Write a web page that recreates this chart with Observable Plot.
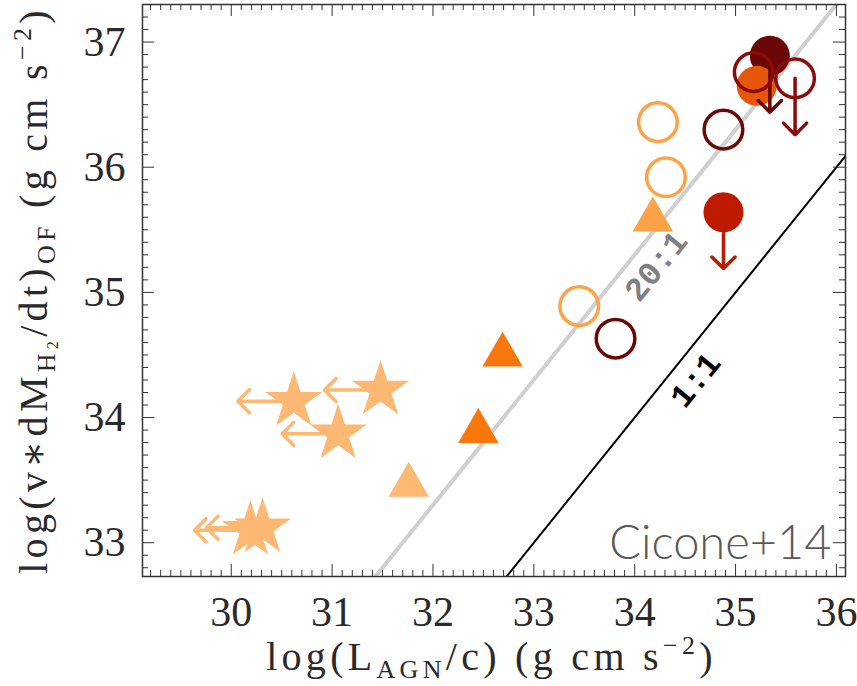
<!DOCTYPE html>
<html>
<head>
<meta charset="utf-8">
<script src="https://cdn.jsdelivr.net/npm/d3@7"></script>
<script src="https://cdn.jsdelivr.net/npm/@observablehq/plot@0.6"></script>
<style>
  html, body { margin: 0; padding: 0; background: #fff; }
  svg { display: block; }
</style>
</head>
<body>
<div id="chart"></div>
<script>
// Outflow momentum rate of the molecular gas versus AGN radiation momentum rate (log units)

// Stars: upper limits on L_AGN/c (arrows pointing left)
const starX = [30.62, 31.48, 31.06, 30.31, 30.19];
const starY = [34.13, 34.22, 33.87, 33.12, 33.10];
const starBin = [0, 0, 0, 0, 0];

// Filled triangles
const triX = [31.76, 32.45, 32.69, 34.18];
const triY = [33.46, 33.89, 34.50, 35.58];
const triBin = [0, 2, 2, 1];

// Open circles (the last one is an upper limit on the outflow rate)
const openX = [34.23, 34.31, 33.45, 33.81, 34.88, 35.18, 35.59];
const openY = [36.36, 35.92, 34.89, 34.63, 36.30, 36.76, 36.71];
const openBin = [1, 1, 1, 6, 6, 5, 5];
const openLimit = [false, false, false, false, false, false, true];

// Filled circles
const fillX = [34.88, 35.34, 35.21];
const fillY = [35.64, 36.89, 36.65];
const fillBin = [4, 6, 3];
const fillLimit = [true, true, false];

// Colour bins
const bins = [0, 1, 2, 3, 4, 5, 6];
const binColors = ["#fdb874", "#fda247", "#f8760c", "#e6560b", "#bd1a00", "#8c0a0a", "#6a0808"];

// Constant momentum-boost ratios and their labels
const ratioK = [20, 1];
const ratioLabel = ["20:1", "1:1"];
const ratioLabelX = [34.21, 34.60];
const ratioLabelY = [35.21, 34.30];

// Axes
const xDomain = [29.12, 36.09];
const yDomain = [32.73, 37.30];
const xTicks = d3.range(30, 37);
const yTicks = d3.range(33, 38);
const xMinor = d3.range(292, 361).map(d => d / 10).filter(d => !Number.isInteger(d));
const yMinor = d3.range(328, 373).map(d => d / 10).filter(d => !Number.isInteger(d));

const rows = (xs, ys, bs, lim) => xs.map((x, i) => ({x, y: ys[i], bin: bs[i], limit: lim ? lim[i] : false}));
const stars = rows(starX, starY, starBin);
const tris = rows(triX, triY, triBin);
const opens = rows(openX, openY, openBin, openLimit);
const fills = rows(fillX, fillY, fillBin, fillLimit);

const W = 857, H = 686;
const mL = 142, mR = 12, mT = 4, mB = 110;
const innerW = W - mL - mR, innerH = H - mT - mB;
const majorLen = 12, minorLen = 6;
const arrowDX = 0.555, arrowDY = 0.45;
const serif = "'Liberation Serif', 'DejaVu Serif', serif";
const tickColor = "#333";
const textColor = "#2a2a2a";

const ratioLine = k => [20, 40].map(x => ({x, y: x + Math.log10(k)}));

const xTickMarks = (vals, len) => [
  Plot.tickX(vals, {x: d => d, insetTop: innerH - len, stroke: tickColor, strokeWidth: 1}),
  Plot.tickX(vals, {x: d => d, insetBottom: innerH - len, stroke: tickColor, strokeWidth: 1})
];
const yTickMarks = (vals, len) => [
  Plot.tickY(vals, {y: d => d, insetRight: innerW - len, stroke: tickColor, strokeWidth: 1}),
  Plot.tickY(vals, {y: d => d, insetLeft: innerW - len, stroke: tickColor, strokeWidth: 1})
];

const chart = Plot.plot({
  width: W,
  height: H,
  marginLeft: mL,
  marginRight: mR,
  marginTop: mT,
  marginBottom: mB,
  style: {background: "#fff", color: textColor, fontFamily: serif},
  x: {domain: xDomain},
  y: {domain: yDomain},
  color: {type: "ordinal", domain: bins, range: binColors},
  marks: [
    // ratio lines
    Plot.line(ratioLine(ratioK[0]), {x: "x", y: "y", stroke: "#cfcfcf", strokeWidth: 4, clip: true}),
    Plot.line(ratioLine(ratioK[1]), {x: "x", y: "y", stroke: "#000", strokeWidth: 2, clip: true}),
    Plot.text([0], {x: () => ratioLabelX[0], y: () => ratioLabelY[0], text: () => ratioLabel[0], rotate: -51,
      fill: "#808080", fontSize: 33, fontWeight: "bold", fontFamily: "'Liberation Mono', monospace"}),
    Plot.text([1], {x: () => ratioLabelX[1], y: () => ratioLabelY[1], text: () => ratioLabel[1], rotate: -51,
      fill: "#000", fontSize: 33, fontWeight: "bold", fontFamily: "'Liberation Mono', monospace"}),

    // upper limits on L_AGN/c
    Plot.arrow(stars, {x1: "x", y1: "y", x2: d => d.x - arrowDX, y2: "y", stroke: "bin",
      strokeWidth: 3.5, headLength: 7, headAngle: 90}),
    Plot.dot(stars, {x: "x", y: "y", symbol: "star", r: 18, fill: "bin"}),

    Plot.dot(tris, {x: "x", y: "y", symbol: "triangle", r: 15, fill: "bin"}),

    Plot.dot(fills, {x: "x", y: "y", r: 20, fill: "bin"}),
    Plot.arrow(fills.filter(d => d.limit), {x1: "x", y1: "y", x2: "x", y2: d => d.y - arrowDY, stroke: "bin",
      strokeWidth: 3.5, headLength: 7, headAngle: 90}),

    Plot.dot(opens, {x: "x", y: "y", r: 19.3, fill: "none", stroke: "bin", strokeWidth: 3.5}),
    Plot.arrow(opens.filter(d => d.limit), {x1: "x", y1: "y", x2: "x", y2: d => d.y - arrowDY, stroke: "bin",
      strokeWidth: 3.5, headLength: 7, headAngle: 90}),

    // tick marks on all four sides, pointing inward
    ...xTickMarks(xTicks, majorLen),
    ...xTickMarks(xMinor, minorLen),
    ...yTickMarks(yTicks, majorLen),
    ...yTickMarks(yMinor, minorLen),

    Plot.axisX(xTicks, {anchor: "bottom", tickSize: 0, tickPadding: 20, fontSize: 42, label: null, tickFormat: d => d}),
    Plot.axisY(yTicks, {anchor: "left", tickSize: 0, tickPadding: 17, fontSize: 42, label: null, tickFormat: d => d}),

    Plot.text(["Cicone+14"], {frameAnchor: "bottom-right", dx: -14, dy: -18, lineAnchor: "bottom",
      fontSize: 47, fontWeight: 300, fill: "#595959", fontFamily: "Lato, 'Liberation Sans', Arial, sans-serif"}),

    Plot.frame({stroke: "#333", strokeWidth: 1.5})
  ]
});

document.getElementById("chart").append(chart);

// Axis titles with sub- and superscripts
const svg = d3.select(chart);
const xt = svg.append("text")
  .attr("x", mL + innerW / 2 - 2).attr("y", 670)
  .attr("text-anchor", "middle")
  .attr("font-family", serif).attr("font-size", 40).attr("fill", textColor)
  .attr("letter-spacing", 4.3);
xt.append("tspan").text("log(L");
xt.append("tspan").attr("font-size", 26).attr("dy", 8).text("AGN");
xt.append("tspan").attr("dy", -8).text("/c) (g cm s");
xt.append("tspan").attr("font-size", 26).attr("dy", -16).text("−2");
xt.append("tspan").attr("dy", 16).text(")");

const yt = svg.append("text")
  .attr("transform", `translate(47,${mT + innerH / 2}) rotate(-90)`)
  .attr("text-anchor", "middle")
  .attr("font-family", serif).attr("font-size", 40).attr("fill", textColor)
  .attr("letter-spacing", 4.3);
yt.append("tspan").text("log(v∗dM");
yt.append("tspan").attr("font-size", 26).attr("dy", 8).text("H");
yt.append("tspan").attr("font-size", 16).attr("dy", 3).text("2");
yt.append("tspan").attr("dy", -11).text("/dt)");
yt.append("tspan").attr("font-size", 26).attr("dy", 8).text("OF");
yt.append("tspan").attr("dy", -8).text(" (g cm s");
yt.append("tspan").attr("font-size", 26).attr("dy", -16).text("−2");
yt.append("tspan").attr("dy", 16).text(")");
</script>
</body>
</html>
